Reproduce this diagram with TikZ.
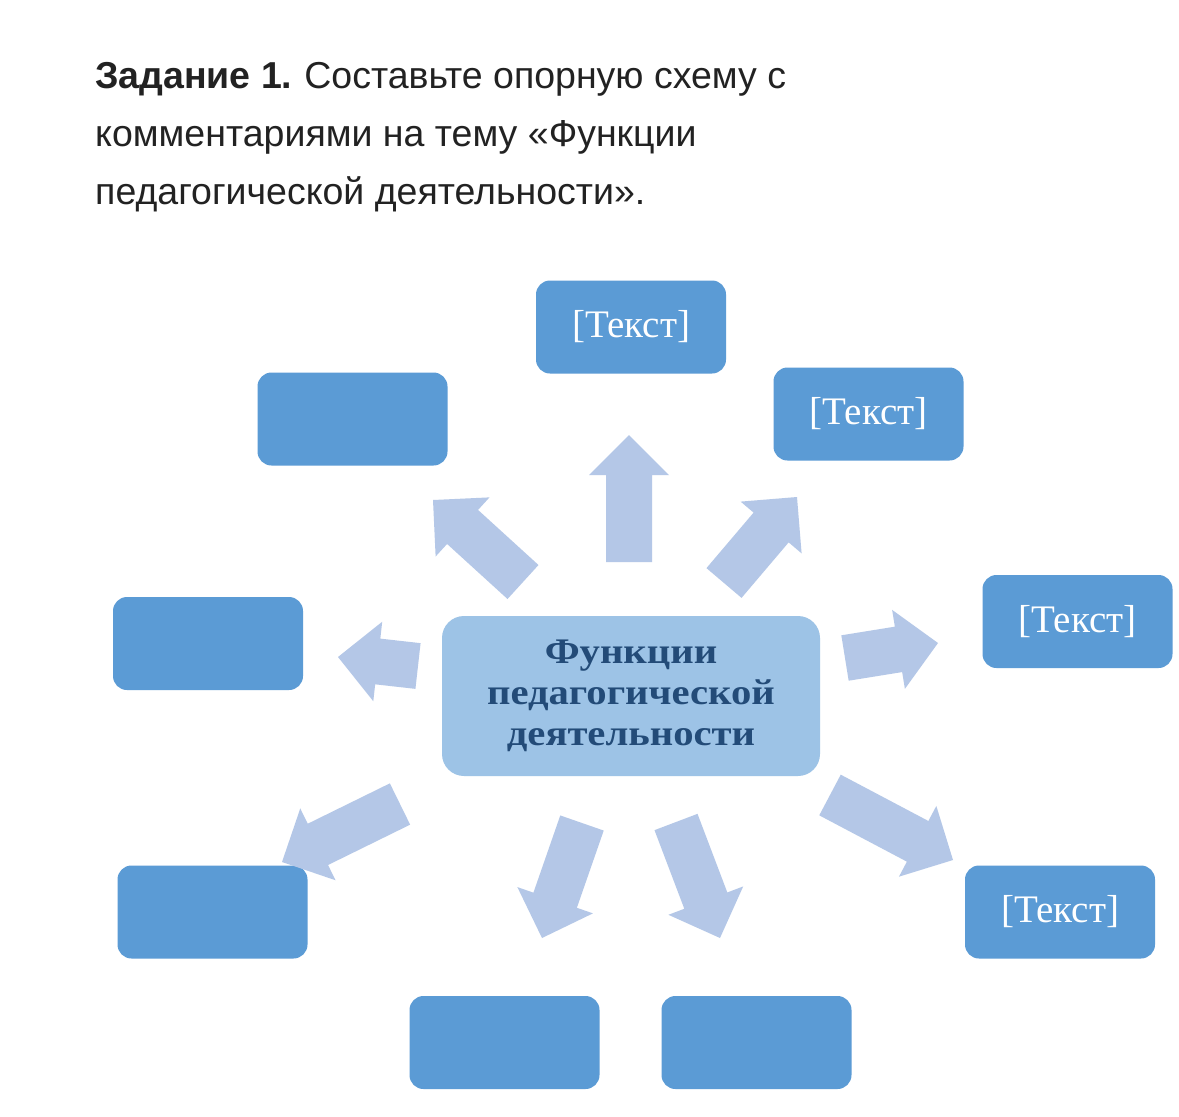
\documentclass[tikz,border=0pt]{standalone}
\usepackage{fontspec}
\setmainfont{Liberation Serif}
\newfontfamily\titlefont{Liberation Sans}
\usetikzlibrary{calc}
\definecolor{boxblue}{RGB}{91,155,213}
\definecolor{centerblue}{RGB}{157,195,230}
\definecolor{arrowblue}{RGB}{180,199,231}
\definecolor{navy}{RGB}{35,75,120}
\definecolor{titlegray}{RGB}{34,34,34}
\tikzset{
  titleline/.style={anchor=base west, inner sep=0pt, font=\titlefont\fontsize{37.5}{40}\selectfont, text=titlegray},
  bluebox/.style={fill=boxblue, draw=none, rounded corners=14pt, minimum width=190pt, minimum height=93pt, inner sep=0pt, text=white, font=\fontsize{39}{44}\selectfont},
  centerbox/.style={fill=centerblue, draw=none, rounded corners=22pt, minimum width=378pt, minimum height=160pt, inner sep=0pt},
  centertext/.style={inner sep=0pt, text=navy, font=\bfseries\fontsize{36}{41}\selectfont, align=center},
  fatarrowfill/.style={fill=arrowblue, draw=none}
}
\newcommand\fatarr[2]{%
  \coordinate (hb) at ($(#2)!40pt!(#1)$);
  \path[fatarrowfill] ($(#1)!23pt!90:(#2)$) -- ($(hb)!23pt!-90:(#1)$) -- ($(hb)!40pt!-90:(#1)$) -- (#2) -- ($(hb)!40pt!90:(#1)$) -- ($(hb)!23pt!90:(#1)$) -- ($(#1)!23pt!-90:(#2)$) -- cycle;
}
\begin{document}
\begin{tikzpicture}[x=1pt,y=-1pt]
\useasboundingbox (0,0) rectangle (1179,1117);
\fill[white] (0,0) rectangle (1179,1117);
% title
\node[titleline] (t1) at (95,88) {\textbf{Задание 1.}\hspace{-2pt} Составьте опорную схему с};
\node[titleline] (t2) at (95,146) {комментариями на тему «Функции};
\node[titleline] (t3) at (95,204) {педагогической деятельности».};
% center
\node[centerbox] (c) at (631,696) {};
\node[centertext] (ct) at (c.center) {\scalebox{1.13}[1]{\parbox{300pt}{\centering Функции\\педагогической\\деятельности}}};
% boxes
\node[bluebox] (b1) at (631,327) {[Текст]};
\node[bluebox] (b2) at (868.5,414) {[Текст]};
\node[bluebox] (b3) at (352.5,419) {};
\node[bluebox] (b4) at (1077.5,621.5) {[Текст]};
\node[bluebox] (b5) at (208,643.5) {};
\node[bluebox] (b6) at (212.5,912) {};
\node[bluebox] (b7) at (1060,912) {[Текст]};
\node[bluebox] (b8) at (504.5,1042.5) {};
\node[bluebox] (b9) at (756.5,1042.5) {};
% arrows
\coordinate (a1t) at (629,562); \coordinate (a1p) at (629,435);
\coordinate (a2t) at (523,582); \coordinate (a2p) at (433,500);
\coordinate (a3t) at (724,583); \coordinate (a3p) at (797,497);
\coordinate (a4t) at (845,658); \coordinate (a4p) at (938,643);
\coordinate (a5t) at (418,666); \coordinate (a5p) at (338,657);
\coordinate (a6t) at (400,804); \coordinate (a6p) at (282,862);
\coordinate (a7t) at (582,823); \coordinate (a7p) at (542,938);
\coordinate (a8t) at (676,822); \coordinate (a8p) at (720,938);
\coordinate (a9t) at (830,795); \coordinate (a9p) at (953,860);
\fatarr{a1t}{a1p}
\fatarr{a2t}{a2p}
\fatarr{a3t}{a3p}
\fatarr{a4t}{a4p}
\fatarr{a5t}{a5p}
\fatarr{a6t}{a6p}
\fatarr{a7t}{a7p}
\fatarr{a8t}{a8p}
\fatarr{a9t}{a9p}
\end{tikzpicture}
\end{document}
